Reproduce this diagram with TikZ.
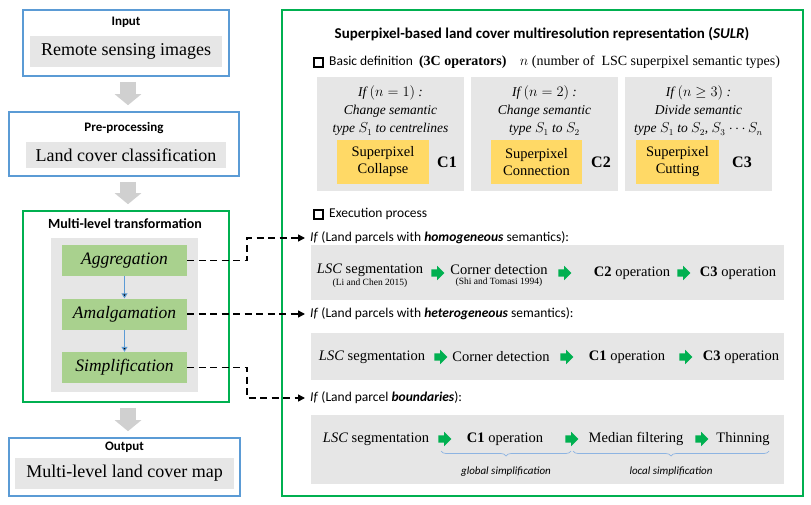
\documentclass[tikz,border=0pt]{standalone}
\usepackage{fontspec}
\setmainfont{Liberation Serif}
\newfontfamily\calibri{Carlito}
\usetikzlibrary{positioning,arrows.meta,shapes.arrows,decorations.pathreplacing}

\definecolor{frameblue}{RGB}{91,155,213}
\definecolor{framegreen}{RGB}{0,176,80}
\definecolor{panelgray}{RGB}{230,230,230}
\definecolor{levelgreen}{RGB}{169,209,142}
\definecolor{opyellow}{RGB}{255,217,102}
\definecolor{arrowgreen}{RGB}{0,176,80}
\definecolor{arrowgray}{RGB}{208,208,208}
\definecolor{bracecol}{RGB}{141,180,226}

\newcommand{\fntsz}[2]{\fontsize{#1}{#2}\selectfont}

\begin{document}
\begin{tikzpicture}[x=1pt,y=-1pt]
        \tikzstyle{bluebox}=[draw=frameblue,line width=1.6pt,inner sep=0]
        \tikzstyle{greenbox}=[draw=framegreen,line width=1.6pt,inner sep=0]
        \tikzstyle{panel}=[fill=panelgray,inner sep=0]
        \tikzstyle{head}=[font=\calibri\bfseries\fntsz{13}{15}]
        \tikzstyle{big}=[font=\rmfamily\fntsz{18}{20}]
        \tikzstyle{levelbox}=[fill=levelgreen,inner sep=0,minimum width=125pt,minimum height=31pt,font=\rmfamily\itshape\fntsz{17.5}{20}]
        \tikzstyle{opbox}=[fill=opyellow,inner sep=0,minimum height=44pt,align=center,font=\rmfamily\fntsz{14.5}{17}]
        \tikzstyle{cond}=[align=center,font=\rmfamily\itshape\fntsz{13.5}{18}]
        \tikzstyle{cname}=[font=\rmfamily\bfseries\fntsz{16}{18}]
        \tikzstyle{bullet}=[draw=black,line width=2pt,minimum size=9pt,inner sep=0]
        \tikzstyle{sans}=[font=\calibri\fntsz{13.5}{15},anchor=west,inner sep=0]
        \tikzstyle{item}=[font=\rmfamily\fntsz{14.5}{16},inner sep=0]
        \tikzstyle{cite}=[font=\rmfamily\fntsz{9.5}{11},inner sep=0]
        \tikzstyle{note}=[font=\calibri\itshape\fntsz{11}{13},inner sep=0]
        \tikzstyle{garrow}=[single arrow,fill=arrowgreen,inner xsep=0,inner ysep=3.5pt,minimum height=13pt,single arrow head extend=3.5pt,single arrow head indent=0pt]
        \tikzstyle{flow}=[draw=arrowgray,line width=16pt,-{Triangle[width=26pt,length=11pt]},shorten <=5pt,shorten >=6pt]
        \tikzstyle{down}=[draw=frameblue,line width=1pt,-{Triangle[length=5pt,width=6pt]}]
        \tikzstyle{link}=[draw=black,dash pattern=on 7pt off 4.5pt,line width=1.5pt,-{Triangle[length=7pt,width=7pt]}]
        \tikzstyle{bracing}=[draw=bracecol,line width=0.7pt,decorate,decoration={brace,mirror,amplitude=5pt}]

        \useasboundingbox (0,0) rectangle (811,504);

        % left column
        \node [bluebox,minimum width=206pt,minimum height=66pt] (input) at (126,43) {};
        \node [head] (hin) at (126,22) {Input};
        \node [panel,big,minimum width=192pt,minimum height=31pt] (rsi) at (126,51.5) {Remote sensing images};

        \node [bluebox,minimum width=230pt,minimum height=64pt] (pre) at (124,144) {};
        \node [head] (hpre) at (124,128) {Pre-processing};
        \node [panel,big,minimum width=200pt,minimum height=26pt] (lcc) at (126,155) {Land cover classification};

        \node [greenbox,minimum width=206pt,minimum height=191pt] (mlt) at (126,306.5) {};
        \node [head,font=\calibri\bfseries\fntsz{14}{16}] (hmlt) at (125,224) {Multi-level transformation};
        \node [panel,minimum width=147pt,minimum height=154pt] (mltp) at (124.5,315) {};
        \node [levelbox] (agg) at (124.5,260.5) {Aggregation};
        \node [levelbox] (amal) at (124.5,314) {Amalgamation};
        \node [levelbox] (simp) at (124.5,367.5) {Simplification};
        \path[down] (agg) edge (amal);
        \path[down] (amal) edge (simp);

        \node [bluebox,minimum width=231pt,minimum height=58pt] (out) at (124.5,467) {};
        \node [head] (hout) at (124.5,447) {Output};
        \node [panel,big,minimum width=219pt,minimum height=31pt] (mlc) at (124.5,473.5) {Multi-level land cover map};

        \coordinate (axis) at (128,0);
        \draw[flow] (input.south -| axis) -- (pre.north -| axis);
        \draw[flow] (pre.south -| axis) -- (mlt.north -| axis);
        \draw[flow] (mlt.south -| axis) -- (out.north -| axis);

        % right frame
        \node [greenbox,minimum width=521pt,minimum height=486pt] (sulr) at (542.5,253) {};
        \node [head,font=\calibri\bfseries\fntsz{15}{17}] (title) at (542,34) {Superpixel-based land cover multiresolution representation (\textit{SULR})};

        \node [bullet] (sq1) at (318,62) {};
        \node [sans] (basic) at (329,62) {Basic definition\ \ {\rmfamily\bfseries\fntsz{14}{16}(3C operators)}\quad{\rmfamily\fntsz{14}{16}$n$ (number of \ LSC superpixel semantic types)}};

        \node [panel,minimum width=147pt,minimum height=114pt] (p1) at (390.5,134) {};
        \node [panel,minimum width=147pt,minimum height=114pt] (p2) at (544.5,134) {};
        \node [panel,minimum width=147pt,minimum height=114pt] (p3) at (698.5,134) {};
        \node [cond] (t1) at (390.5,111) {If $(n=1)$ :\\Change semantic\\type $S_1$ to centrelines};
        \node [cond] (t2) at (544.5,111) {If $(n=2)$ :\\Change semantic\\type $S_1$ to $S_2$};
        \node [cond] (t3) at (698.5,111) {If $(n\geq 3)$ :\\Divide semantic\\type $S_1$ to $S_2$, $S_3$ $\cdots S_n$};
        \node [opbox,minimum width=92pt] (o1) at (383,162) {Superpixel\\Collapse};
        \node [opbox,minimum width=91pt] (o2) at (536.5,162) {Superpixel\\Connection};
        \node [opbox,minimum width=83pt] (o3) at (677.5,162) {Superpixel\\Cutting};
        \node [cname] (c1) at (447,162) {C1};
        \node [cname] (c2) at (601,162) {C2};
        \node [cname] (c3) at (742,162) {C3};

        \node [bullet] (sq2) at (318,214) {};
        \node [sans] (exec) at (329,214) {Execution process};

        % homogeneous
        \node [sans,inner xsep=5pt] (ifhom) at (305,238) {\textit{If} (Land parcels with \textbf{\textit{homogeneous}} semantics):};
        \node [panel,minimum width=473pt,minimum height=55pt] (r1) at (547.5,272.5) {};
        \node [item] (lsc1) at (370,270) {\textit{LSC} segmentation};
        \node [cite,below=2pt of lsc1] (ref1) {(Li and Chen 2015)};
        \node [garrow] (a11) at (436,273) {};
        \node [item] (cd1) at (499,270) {Corner detection};
        \node [cite,below=2pt of cd1] (ref2) {(Shi and Tomasi 1994)};
        \node [garrow] (a12) at (563,273) {};
        \node [item] (op12) at (632,273) {\textbf{C2} operation};
        \node [garrow] (a13) at (682,273) {};
        \node [item] (op13) at (738,273) {\textbf{C3} operation};

        % heterogeneous
        \node [sans,inner xsep=5pt] (ifhet) at (305,314) {\textit{If} (Land parcels with \textbf{\textit{heterogeneous}} semantics):};
        \node [panel,minimum width=473pt,minimum height=47pt] (r2) at (547.5,356.5) {};
        \node [item] (lsc2) at (372,357) {\textit{LSC} segmentation};
        \node [garrow] (a21) at (439,357) {};
        \node [item] (cd2) at (501,357) {Corner detection};
        \node [garrow] (a22) at (565,357) {};
        \node [item] (op22) at (627,357) {\textbf{C1} operation};
        \node [garrow] (a23) at (684,357) {};
        \node [item] (op23) at (741,357) {\textbf{C3} operation};

        % boundaries
        \node [sans,inner xsep=5pt] (ifbnd) at (305,398) {\textit{If} (Land parcel \textbf{\textit{boundaries}}):};
        \node [panel,minimum width=473pt,minimum height=69pt] (r3) at (547.5,449.5) {};
        \node [item] (lsc3) at (376,439) {\textit{LSC} segmentation};
        \node [garrow] (a31) at (443,439) {};
        \node [item] (op31) at (505,439) {\textbf{C1} operation};
        \node [garrow] (a32) at (570,439) {};
        \node [item] (mf) at (636,439) {Median filtering};
        \node [garrow] (a33) at (700,439) {};
        \node [item] (thin) at (743,439) {Thinning};
        \draw[bracing] (441,451) -- (571,451);
        \draw[bracing] (573,451) -- (769,451);
        \node [note] (glob) at (506,472) {global simplification};
        \node [note] (loc) at (671,472) {local simplification};

        % links
        \draw[link] (agg.east) -- ++(60,0) |- (ifhom.west);
        \draw[link] (amal.east) -- (ifhet.west);
        \draw[link] (simp.east) -- ++(60,0) |- (ifbnd.west);
\end{tikzpicture}
\end{document}
